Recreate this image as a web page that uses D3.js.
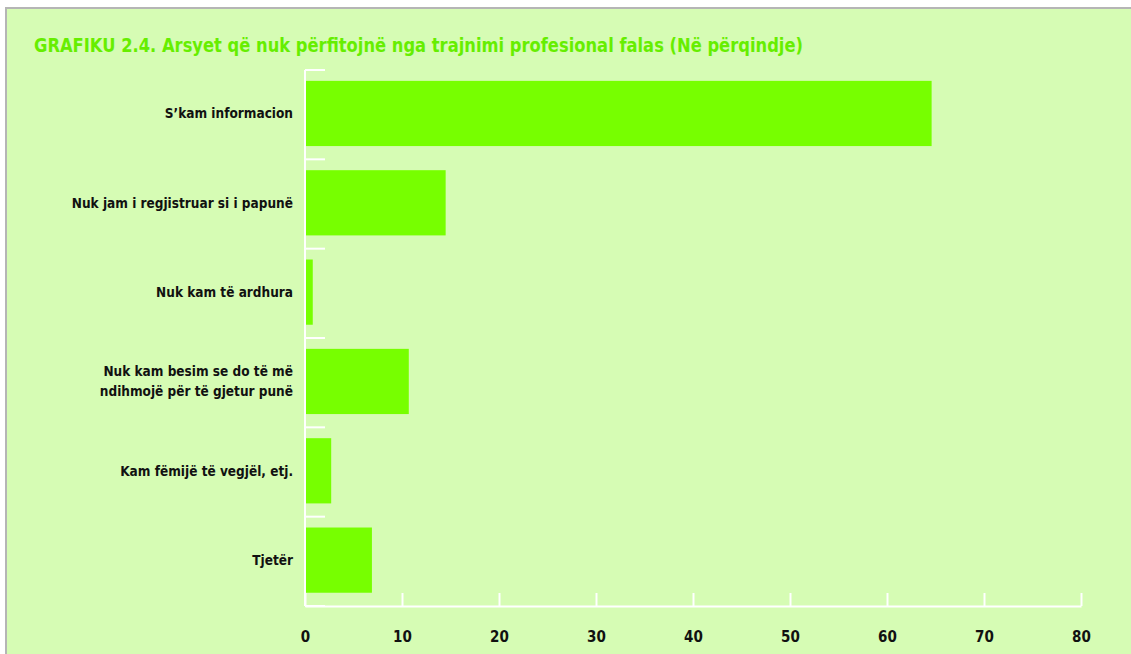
<!DOCTYPE html>
<html>
<head>
<meta charset="utf-8">
<script src="https://cdn.jsdelivr.net/npm/d3@7"></script>
<style>
  body { margin: 0; background: #fff; }
  svg { display: block; }
  .lbl { font-family: "Liberation Sans Narrow", "DejaVu Sans Condensed", sans-serif; font-weight: bold; }
</style>
</head>
<body>
<div id="chart"></div>
<script>
var categories = [
  ["S’kam informacion"],
  ["Nuk jam i regjistruar si i papunë"],
  ["Nuk kam të ardhura"],
  ["Nuk kam besim se do të më", "ndihmojë për të gjetur punë"],
  ["Kam fëmijë të vegjël, etj."],
  ["Tjetër"]
];
var values = [64.6, 14.5, 0.8, 10.7, 2.7, 6.9];
var xTicks = [0, 10, 20, 30, 40, 50, 60, 70, 80];
var title = "GRAFIKU 2.4. Arsyet që nuk përfitojnë nga trajnimi profesional falas (Në përqindje)";

var W = 1131, H = 654;
var margin = { top: 70, right: 50, bottom: 48, left: 305 },
  width = 1081 - margin.left,
  height = 606 - margin.top;

var svg = d3.select("#chart")
  .append("svg")
  .attr("width", W)
  .attr("height", H);

// panel background + frame
svg.append("rect")
  .attr("x", 6).attr("y", 8)
  .attr("width", W + 10).attr("height", H + 10)
  .style("fill", "#d6fcb4")
  .style("stroke", "#b5b5b5")
  .style("stroke-width", 2);

svg.append("text")
  .attr("class", "lbl")
  .attr("x", 34).attr("y", 52)
  .attr("textLength", 769)
  .attr("lengthAdjust", "spacingAndGlyphs")
  .style("font-size", "20px")
  .style("fill", "#66ee00")
  .text(title);

var g = svg.append("g")
  .attr("transform", "translate(" + margin.left + "," + margin.top + ")");

var keys = categories.map(function (d, i) { return i; });

var x = d3.scaleLinear()
  .domain([0, 80])
  .range([0, width]);

var y = d3.scaleBand()
  .domain(keys)
  .range([0, height])
  .paddingInner(0.27)
  .paddingOuter(0.135)
  .align(0.45);

var yb = d3.scaleBand().domain(keys).range([0, height]);

// bars
g.selectAll("rect.bar")
  .data(values)
  .enter()
  .append("rect")
  .attr("class", "bar")
  .attr("x", x(0))
  .attr("y", function (d, i) { return y(i); })
  .attr("width", function (d) { return x(d) - x(0); })
  .attr("height", y.bandwidth())
  .style("fill", "#77ff00");

// y axis: line + category separators
g.append("line")
  .attr("x1", 0).attr("x2", 0)
  .attr("y1", 0).attr("y2", height)
  .style("stroke", "#fff").style("stroke-width", 2);

var seps = keys.map(function (k) { return yb(k); }).concat([height]);
g.selectAll("line.ysep")
  .data(seps)
  .enter()
  .append("line")
  .attr("class", "ysep")
  .attr("x1", 0).attr("x2", 20)
  .attr("y1", function (d) { return d; })
  .attr("y2", function (d) { return d; })
  .style("stroke", "#fff").style("stroke-width", 2);

// x axis
var xAxis = g.append("g")
  .attr("transform", "translate(0," + height + ")")
  .call(d3.axisBottom(x)
    .tickValues(xTicks)
    .tickSizeInner(-13)
    .tickSizeOuter(0)
    .tickPadding(20));

xAxis.select(".domain").style("stroke", "#fff").style("stroke-width", 2);
xAxis.selectAll(".tick line").style("stroke", "#fff").style("stroke-width", 2);
xAxis.selectAll(".tick text")
  .attr("class", "lbl")
  .attr("dy", "1.05em")
  .style("font-size", "15px")
  .style("fill", "#111");

// category labels
var labels = g.selectAll("text.cat")
  .data(categories)
  .enter()
  .append("text")
  .attr("class", "lbl cat")
  .attr("text-anchor", "end")
  .style("font-size", "13.5px")
  .style("fill", "#111")
  .attr("transform", function (d, i) {
    return "translate(-12," + (y(i) + y.bandwidth() / 2) + ")";
  });

labels.each(function (lines) {
  var t = d3.select(this);
  var lh = 20;
  var start = -(lines.length - 1) * lh / 2;
  lines.forEach(function (s, j) {
    t.append("tspan")
      .attr("x", 0)
      .attr("y", start + j * lh)
      .attr("dy", "0.35em")
      .text(s);
  });
});
</script>
</body>
</html>
